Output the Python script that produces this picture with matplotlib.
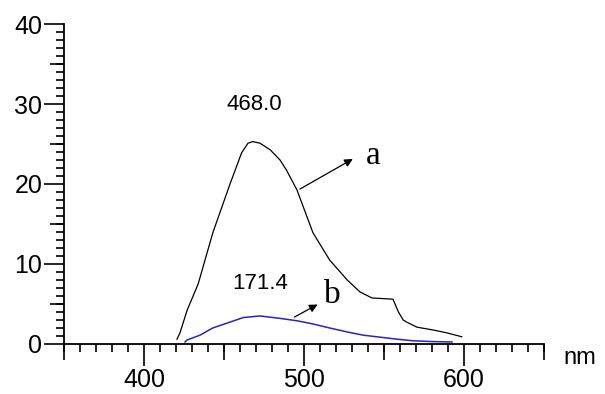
import matplotlib.pyplot as plt
from matplotlib.ticker import MultipleLocator, NullFormatter

plt.rcParams['font.family'] = ['Liberation Sans', 'DejaVu Sans']

# spectrum a (black)
wl_a = [420.6, 422.5, 427, 433, 434, 443, 453.75, 461, 465, 468, 472.5, 479, 485,
        489, 495.6, 505.6, 516, 527, 535, 542.5, 555.6, 559, 562, 564, 570.6,
        580.6, 589, 598.6]
int_a = [0.6, 1.4, 4.25, 7.1, 7.6, 13.9, 20.0, 23.9, 25.1, 25.3, 25.1, 24.25, 23.0,
         21.75, 19.25, 13.9, 10.5, 8.0, 6.5, 5.75, 5.6, 4.0, 3.0, 2.75, 2.1,
         1.75, 1.4, 0.9]

# spectrum b (blue)
wl_b = [425.6, 427, 435, 443, 454, 462, 472.5, 485, 495.6, 505.6, 516, 527, 537,
        547.5, 558, 568, 580, 592.5]
int_b = [0.25, 0.5, 1.1, 2.0, 2.75, 3.3, 3.5, 3.2, 2.9, 2.5, 2.0, 1.5, 1.1,
         0.85, 0.6, 0.4, 0.3, 0.25]

x_labeled = [400, 500, 600]
y_labeled = [0, 10, 20, 30, 40]

fig = plt.figure(figsize=(6.05, 3.94), dpi=100)
ax = fig.add_axes([0.1058, 0.127, 0.7934, 0.812])

ax.plot(wl_a, int_a, color='black', linewidth=0.9)
ax.plot(wl_b, int_b, color='#2424c8', linewidth=1.1)

ax.set_xlim(350, 650)
ax.set_ylim(0, 40)

for s in ['top', 'right']:
    ax.spines[s].set_visible(False)
for s in ['left', 'bottom']:
    ax.spines[s].set_linewidth(1.3)

# labeled major ticks, small minor ticks
ax.set_xticks(x_labeled)
ax.set_yticks(y_labeled)
ax.xaxis.set_minor_locator(MultipleLocator(10))
ax.yaxis.set_minor_locator(MultipleLocator(1))
ax.tick_params(which='both', direction='out', width=1.2)
ax.tick_params(axis='x', which='major', length=16, labelsize=18, pad=1)
ax.tick_params(axis='y', which='major', length=14.5, labelsize=18, pad=1)
ax.tick_params(which='minor', length=6)

# medium ticks at the 50 nm / 5 unit marks
secx = ax.secondary_xaxis('bottom')
secx.set_xticks([350, 450, 550, 650])
secx.xaxis.set_major_formatter(NullFormatter())
secx.tick_params(direction='out', length=11.5, width=1.2)
secx.spines['bottom'].set_visible(False)
secy = ax.secondary_yaxis('left')
secy.set_yticks([5, 15, 25, 35])
secy.yaxis.set_major_formatter(NullFormatter())
secy.tick_params(direction='out', length=10, width=1.2)
secy.spines['left'].set_visible(False)

ax.text(469, 30, "468.0", ha='center', va='center', fontsize=16)
ax.text(472.5, 7.6, "171.4", ha='center', va='center', fontsize=16)

arrow = dict(arrowstyle='-|>', color='black', lw=0.9, mutation_scale=12)
ax.annotate("", xy=(532, 23.3), xytext=(496, 19.2), arrowprops=arrow)
ax.annotate("", xy=(510, 5.1), xytext=(492.5, 3.2), arrowprops=arrow)
ax.text(543, 23.5, "a", ha='center', va='center', fontsize=24, family='Liberation Serif')
ax.text(518, 6.2, "b", ha='center', va='center', fontsize=24, family='Liberation Serif')

fig.text(580 / 605, 1 - 358 / 394, "nm", ha='center', va='center', fontsize=17)

fig.savefig("out.png", dpi=100)
